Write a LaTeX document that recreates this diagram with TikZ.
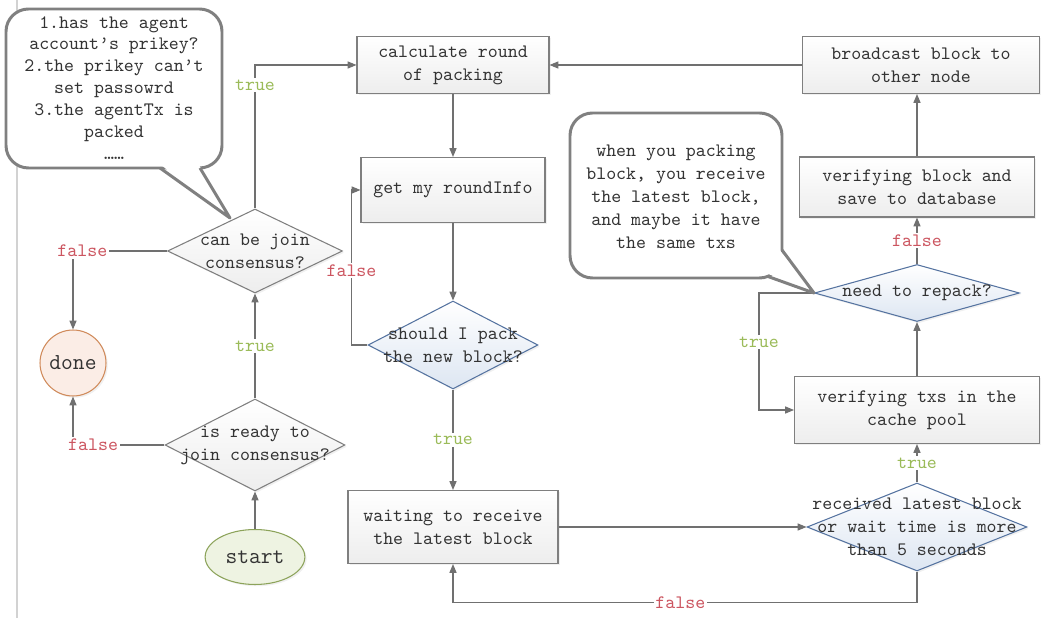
\documentclass[tikz,border=0pt]{standalone}
\usepackage{fontspec}
\usetikzlibrary{shapes.geometric,shadows,arrows.meta}

\definecolor{linec}{HTML}{707070}
\definecolor{boxc}{HTML}{7F7F7F}
\definecolor{txtc}{HTML}{333333}
\definecolor{bluec}{HTML}{5573A0}
\definecolor{bluef}{HTML}{DDE6F2}
\definecolor{truec}{HTML}{9BBB59}
\definecolor{falsec}{HTML}{CC5560}
\definecolor{startc}{HTML}{8CA35A}
\definecolor{startf}{HTML}{EEF3E2}
\definecolor{donec}{HTML}{D08A5A}
\definecolor{donef}{HTML}{FBEDE6}

\tikzset{
    shade/.style={drop shadow={opacity=0.12,shadow xshift=1pt,shadow yshift=-1pt}},
    box/.style={draw=boxc, line width=0.6pt, top color=white, bottom color=gray!14,
        text=txtc, align=center, shade},
    dec/.style={diamond, draw=boxc, line width=0.6pt, top color=white,
        bottom color=gray!14, inner sep=0pt, shade},
    decb/.style={dec, draw=bluec, bottom color=bluef},
    txt/.style={text=txtc, align=center, inner sep=0pt},
    arr/.style={draw=linec, line width=0.6pt, -{Triangle[length=5pt,width=4pt]}},
    lt/.style={fill=white, text=truec, inner sep=1pt},
    lf/.style={fill=white, text=falsec, inner sep=1pt},
    bubble/.style={draw=gray, line width=1.7pt, fill=white, rounded corners=0.45cm},
    tail/.style={draw=gray, line width=1.7pt, line join=round}
}

\begin{document}
\begin{tikzpicture}[x=0.02cm, y=-0.02cm, font=\ttfamily\fontsize{10.8}{13.1}\selectfont]
    \useasboundingbox (0,0) rectangle (1056,618);
    \draw[gray!35, line width=0.6pt] (17,0) -- (17,618);

    % left column
    \node[ellipse, draw=startc, fill=startf, line width=0.6pt, minimum width=1.9cm,
        minimum height=1.1cm, text=txtc, font=\ttfamily\fontsize{13}{15}\selectfont, shade] (start) at (255,557) {start};
    \node[circle, draw=donec, fill=donef, line width=0.6pt, minimum size=1.32cm,
        text=txtc, font=\ttfamily\fontsize{13}{15}\selectfont, shade] (done) at (73,363) {done};
    \node[dec, minimum width=3.6cm, minimum height=1.84cm,
        label={[txt]center:is ready to\\join consensus?}] (isready) at (255,445) {};
    \node[dec, minimum width=3.5cm, minimum height=1.68cm,
        label={[txt]center:can be join\\consensus?}] (canjoin) at (255,251) {};

    % middle column
    \node[box, minimum width=3.84cm, minimum height=1.14cm] (calc) at (453,65) {calculate round\\of packing};
    \node[box, minimum width=3.68cm, minimum height=1.3cm] (getinfo) at (453,190) {get my roundInfo};
    \node[decb, minimum width=3.4cm, minimum height=1.76cm,
        label={[txt]center:should I pack\\the new block?}] (should) at (453,345) {};
    \node[box, minimum width=4.2cm, minimum height=1.46cm] (waiting) at (453,527) {waiting to receive\\the latest block};

    % right column
    \node[box, minimum width=4.74cm, minimum height=1.14cm] (broadcast) at (921,65) {broadcast block to\\other node};
    \node[box, minimum width=4.7cm, minimum height=1.2cm] (verifyblock) at (917,187) {verifying block and\\save to database};
    \node[decb, minimum width=4.1cm, minimum height=1.14cm,
        label={[txt]center:need to repack?}] (need) at (917,293) {};
    \node[box, minimum width=4.9cm, minimum height=1.34cm] (verifytxs) at (917,410) {verifying txs in the\\cache pool};
    \node[decb, minimum width=4.4cm, minimum height=1.76cm,
        label={[txt]center:received latest block\\or wait time is more\\than 5 seconds}] (received) at (917,527) {};

    % connectors
    \draw[arr] (start.north) -- (isready.south);
    \draw[arr] (isready.west) -| node[pos=0.39,lf]{false} (done.south);
    \draw[arr] (isready.north) -- node[lt]{true} (canjoin.south);
    \draw[arr] (canjoin.west) -| node[pos=0.45,lf]{false} (done.north);
    \draw[arr] (canjoin.north) |- node[pos=0.43,lt]{true} (calc.west);
    \draw[arr] (calc.south) -- (getinfo.north);
    \draw[arr] (getinfo.south) -- (should.north);
    \draw[arr] (should.west) -- ++(-16,0) |- node[pos=0.24,lf]{false} (getinfo.west);
    \draw[arr] (should.south) -- node[lt]{true} (waiting.north);
    \draw[arr] (waiting.east) -- (received.west);
    \draw[arr] (received.south) -- ++(0,31) -| node[pos=0.255,lf]{false} (waiting.south);
    \draw[arr] (received.north) -- node[lt]{true} (verifytxs.south);
    \draw[arr] (verifytxs.north) -- (need.south);
    \draw[arr] (need.west) -- ++(-55,0) |- node[pos=0.21,lt]{true} (verifytxs.west);
    \draw[arr] (need.north) -- node[lf]{false} (verifyblock.south);
    \draw[arr] (verifyblock.north) -- (verifyblock.north |- broadcast.south);
    \draw[arr] (broadcast.west) -- (calc.east);

    % speech bubbles
    \draw[bubble] (6,9) rectangle (222,168);
    \fill[white] (161,165) -- (230,218) -- (199,165) -- cycle;
    \draw[tail] (160,168) -- (230,218) -- (200,168);
    \node[txt, font=\ttfamily\fontsize{10.8}{12.5}\selectfont] (note1) at (114,88)
        {1.has the agent\\account’s prikey?\\2.the prikey can’t\\set passowrd\\3.the agentTx is\\packed\\\ldots\ldots};
    \draw[bubble] (570,113) rectangle (782,278);
    \fill[white] (779,249) -- (need.west) -- (766,273) -- cycle;
    \draw[tail] (782,250) -- (need.west) -- (768,276.5);
    \node[txt] (note2) at (676,197)
        {when you packing\\block, you receive\\the latest block,\\and maybe it have\\the same txs};
\end{tikzpicture}
\end{document}
